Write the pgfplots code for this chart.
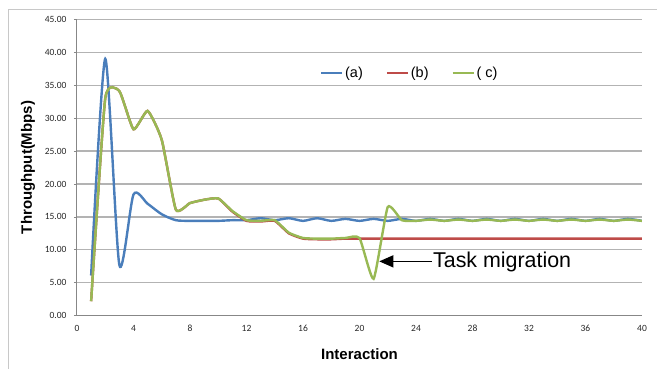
\documentclass[border=0pt]{standalone}
\usepackage{pgfplots}
\pgfplotsset{compat=1.18}
\usepackage{fontspec}
\usetikzlibrary{arrows.meta}
\setmainfont{Liberation Sans}
\newfontfamily\carl{Carlito}
\definecolor{xlblue}{HTML}{4A7EBB}
\definecolor{xlred}{HTML}{BE4B48}
\definecolor{xlgreen}{HTML}{98B954}
\definecolor{gridgray}{HTML}{B3B3B3}
\definecolor{axgray}{HTML}{878787}
\definecolor{bordgray}{HTML}{C8C8C8}
\begin{document}
\begin{tikzpicture}
\begin{axis}[
  scale only axis,
  width=565pt, height=296.4pt,
  xmin=0, xmax=40, ymin=0, ymax=45,
  xtick={0,4,...,40},
  ytick={0,5,...,45},
  ymajorgrids,
  grid style={gridgray, line width=1.2pt},
  axis x line*=bottom, axis y line*=left,
  axis line style={axgray, line width=1pt},
  x axis line style={-}, y axis line style={-},
  tick style={axgray, line width=0.8pt},
  xtick style={draw=none},
  ytick align=outside, major tick length=3pt,
  /pgf/number format/assume math mode=true,
  yticklabel style={/pgf/number format/fixed, /pgf/number format/fixed zerofill, /pgf/number format/precision=2, xshift=-4pt},
  ticklabel style={font=\carl\fontsize{9.5}{10}\selectfont, text=black!85},
  xticklabel style={yshift=-6pt},
  xlabel={\bfseries Interaction},
  ylabel={\bfseries Throughput(Mbps)},
  label style={font=\fontsize{15}{16}\selectfont},
  xlabel style={yshift=-10pt},
  ylabel style={yshift=3pt},
  legend columns=3,
  legend style={draw=none, fill=none, at={(axis cs:17.2,36.8)}, anchor=west,
    font=\fontsize{14.5}{15}\selectfont, inner sep=0pt,
    /tikz/every even column/.append style={column sep=21pt}},
  legend image code/.code={\draw[#1, line width=2pt] (0pt,0pt) -- (21pt,0pt);},
  every axis plot/.append style={line width=2.4pt, smooth},
]
\addplot[xlblue, tension=0.42] coordinates {
(1,6.1) (2,39.0) (3,7.7) (4,18.4) (5,17.0) (6,15.4) (7,14.5) (8,14.4) (9,14.4) (10,14.4)
(11,14.5) (12,14.5) (13,14.8) (14,14.5) (15,14.8) (16,14.4) (17,14.8) (18,14.4) (19,14.7) (20,14.4)
(21,14.7) (22,14.4) (23,14.7) (24,14.4) (25,14.7) (26,14.4) (27,14.7) (28,14.4) (29,14.7) (30,14.4)
(31,14.7) (32,14.4) (33,14.7) (34,14.4) (35,14.7) (36,14.4) (37,14.7) (38,14.4) (39,14.7) (40,14.4)
};
\addlegendentry{(a)}
\addplot[xlred, tension=0.3] coordinates {
(1,2.2) (2,33.0) (3,34.1) (4,28.3) (5,31.1) (6,26.7) (7,16.1) (8,17.1) (9,17.6) (10,17.8)
(11,15.8) (12,14.4) (13,14.3) (14,14.4) (15,12.5) (16,11.7) (17,11.6) (18,11.6) (19,11.7) (20,11.7)
(21,11.7) (22,11.7) (23,11.7) (24,11.7) (25,11.7) (26,11.7) (27,11.7) (28,11.7) (29,11.7) (30,11.7)
(31,11.7) (32,11.7) (33,11.7) (34,11.7) (35,11.7) (36,11.7) (37,11.7) (38,11.7) (39,11.7) (40,11.7)
};
\addlegendentry{(b)}
\addplot[xlgreen, tension=0.3] coordinates {
(1,2.2) (2,33.0) (3,34.1) (4,28.3) (5,31.1) (6,26.7) (7,16.1) (8,17.1) (9,17.6) (10,17.8)
(11,15.9) (12,14.5) (13,14.4) (14,14.5) (15,12.6) (16,11.8) (17,11.7) (18,11.7) (19,11.8) (20,11.8)
(21,5.6) (22,16.5) (23,14.5) (24,14.4) (25,14.6) (26,14.4) (27,14.6) (28,14.4) (29,14.6) (30,14.4)
(31,14.6) (32,14.4) (33,14.6) (34,14.4) (35,14.6) (36,14.4) (37,14.6) (38,14.4) (39,14.6) (40,14.4)
};
\addlegendentry{( c)}
\draw[black, line width=1.2pt, -{Triangle[length=14pt,width=12pt]}] (axis cs:25.1,8.25) -- (axis cs:21.4,8.25);
\node[anchor=base west, inner sep=0pt, font=\fontsize{21.4}{22}\selectfont] at (axis cs:25.2,7.34) {Task migration};
\end{axis}
\draw[bordgray, line width=1pt] (-68pt,-70pt) -- (-68pt,306.7pt) -- (600pt,306.7pt);
\pgfresetboundingbox
\path[use as bounding box] (-77pt,-52.3pt) rectangle (580pt,315.7pt);
\end{tikzpicture}
\end{document}
